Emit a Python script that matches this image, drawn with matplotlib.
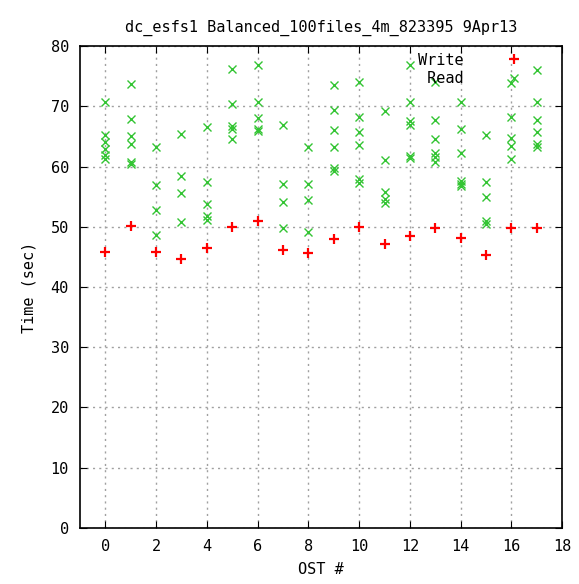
import numpy as np
import matplotlib.pyplot as plt

plt.rcParams['font.family'] = ['DejaVu Sans Mono']

title = "dc_esfs1 Balanced_100files_4m_823395 9Apr13"

# write time per OST (sec)
write_ost = list(range(18))
write_time = [45.8, 50.1, 45.8, 44.7, 46.5, 49.9, 50.9, 46.2, 45.7,
              47.9, 50.0, 47.1, 48.5, 49.8, 48.1, 45.3, 49.8, 49.8]

# read times per OST (sec)
read_times = [
    [70.8, 65.2, 64.0, 63.0, 62.0, 61.3],
    [73.7, 67.9, 65.1, 63.7, 60.7, 60.4],
    [63.3, 56.9, 52.8, 48.7],
    [65.4, 58.4, 55.6, 50.8],
    [66.6, 57.5, 53.8, 51.8, 51.2],
    [76.2, 70.4, 66.8, 66.2, 64.6],
    [76.9, 70.8, 68.1, 66.3, 65.9],
    [66.9, 57.1, 54.2, 49.8],
    [63.2, 57.1, 54.5, 49.2],
    [73.5, 69.4, 66.1, 63.2, 59.8, 59.3],
    [74.1, 68.3, 65.8, 63.6, 57.9, 57.3],
    [69.2, 61.1, 55.8, 54.6, 53.9],
    [76.9, 70.8, 67.5, 66.9, 61.8, 61.4],
    [74.0, 67.7, 64.6, 62.3, 61.6, 60.8],
    [70.8, 66.2, 62.3, 57.6, 57.1, 56.8],
    [65.2, 57.4, 54.9, 51.0, 50.5],
    [73.8, 68.3, 64.8, 63.4, 61.2],
    [76.1, 70.8, 67.7, 65.7, 63.7, 63.2],
]

read_x = [i for i, vals in enumerate(read_times) for _ in vals]
read_y = [v for vals in read_times for v in vals]

fig = plt.figure(figsize=(5.79, 5.84), dpi=100)
ax = fig.add_axes([0.138, 0.096, 0.833, 0.825])

ax.plot(write_ost, write_time, ls='none', marker='+', ms=7, mew=1.6,
        color='#ff0000', label='Write')
ax.plot(read_x, read_y, ls='none', marker='x', ms=6, mew=1.0,
        color='#33c433', label=' Read')

ax.set_xlim(-1, 18)
ax.set_ylim(0, 80)
ax.set_xticks(range(0, 19, 2))
ax.set_yticks(range(0, 81, 10))
ax.grid(True, color='#a0a0a0', ls=(0, (1.5, 3)), lw=1.0)
ax.tick_params(direction='in', top=True, right=True, length=5,
               labelsize=11, pad=8)
for s in ax.spines.values():
    s.set_linewidth(1.2)

ax.set_title(title, fontsize=11, pad=10)
ax.set_xlabel("OST #", fontsize=11, labelpad=6)
ax.set_ylabel("Time (sec)", fontsize=11, labelpad=10)

ax.legend(loc='upper right', bbox_to_anchor=(0.944, 1.015), frameon=False,
          markerfirst=False, fontsize=11, handlelength=1.0,
          handletextpad=2.8, labelspacing=0.25)

plt.savefig("out.png", dpi=100)
